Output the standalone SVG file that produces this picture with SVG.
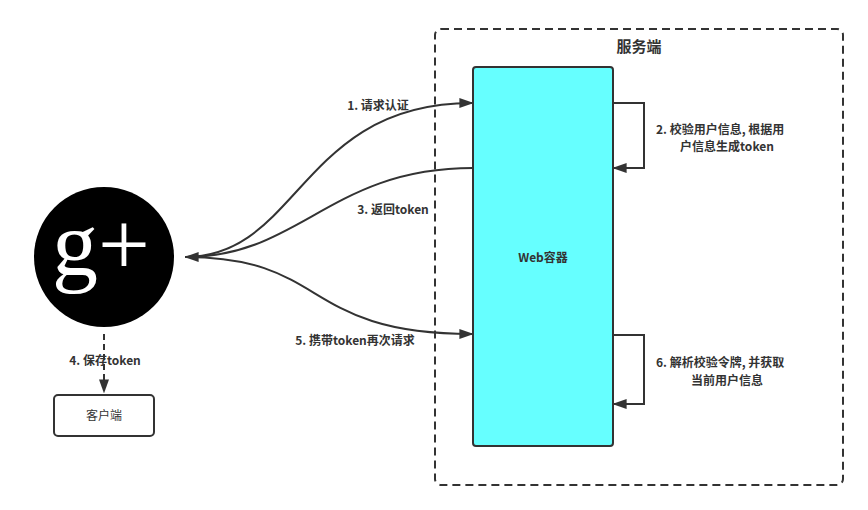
<svg xmlns="http://www.w3.org/2000/svg" width="868" height="510" viewBox="0 0 868 510">
<style>
text{font-family:"Noto Sans CJK SC","Liberation Sans",sans-serif;font-size:12px;fill:#333}
.b{font-weight:bold}
.c{fill:none;stroke:#333;stroke-width:2}
</style>
<defs>
<marker id="m" viewBox="0 0 10 10" refX="9" refY="5" markerWidth="14" markerHeight="10" markerUnits="userSpaceOnUse" orient="auto" preserveAspectRatio="none"><path d="M0,0 L10,5 L0,10 Z" fill="#333"/></marker></defs>
<g id="server">
<rect x="435" y="29" width="408" height="456" rx="6" fill="none" stroke="#333" stroke-width="2" stroke-dasharray="8,5"/>
<text x="639" y="52" text-anchor="middle" class="b" style="font-size:15px">服务端</text>
</g>
<g id="web"><rect x="473" y="67" width="140" height="379" rx="3" fill="#66ffff" stroke="#333" stroke-width="2"/>
<text x="543" y="262" text-anchor="middle" class="b">Web容器</text></g>
<g id="gplus"><circle cx="104" cy="257" r="70" fill="#000"/>
<text x="101" y="275" text-anchor="middle" style="font-family:'Liberation Serif',serif;font-size:92px;fill:#fff">g+</text></g>
<g id="client"><rect x="54" y="395" width="100" height="41" rx="4" fill="#fff" stroke="#333" stroke-width="2"/>
<text x="104" y="420" text-anchor="middle">客户端</text></g>
<g id="connectors">
<path class="c" marker-end="url(#m)" d="M185,257 C300,257 300,103 472,103"/>
<path class="c" marker-end="url(#m)" d="M473,168 C330,168 300,257 186,257"/>
<path class="c" marker-end="url(#m)" d="M185,257 C330,257 300,334 472,334"/>
<path class="c" marker-end="url(#m)" d="M613,103 H644 V168 H614"/>
<path class="c" marker-end="url(#m)" d="M613,335 H644 V404 H614"/>
<path class="c" stroke-dasharray="6,4" marker-end="url(#m)" d="M104,334 V392"/>
<text x="378" y="110" text-anchor="middle" class="b">1. 请求认证</text>
<text x="656" y="134" class="b">2. 校验用户信息, 根据用</text>
<text x="727" y="151" text-anchor="middle" class="b">户信息生成token</text>
<text x="393" y="214" text-anchor="middle" class="b">3. 返回token</text>
<text x="105" y="365" text-anchor="middle" class="b">4. 保存token</text>
<text x="355" y="345" text-anchor="middle" class="b">5. 携带token再次请求</text>
<text x="656" y="367" class="b">6. 解析校验令牌, 并获取</text>
<text x="727" y="385" text-anchor="middle" class="b">当前用户信息</text>
</g>
</svg>
